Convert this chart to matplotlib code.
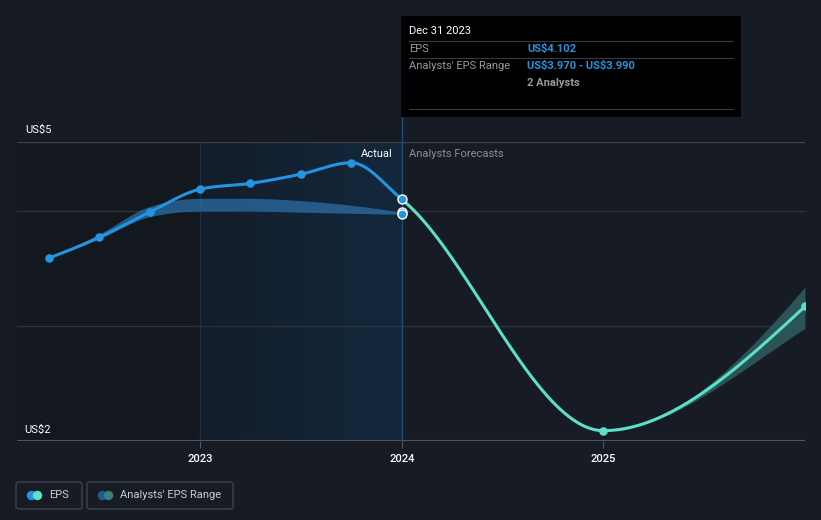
import numpy as np
import matplotlib
matplotlib.use("Agg")
import matplotlib.pyplot as plt
from matplotlib.colors import LinearSegmentedColormap
from matplotlib.patches import FancyBboxPatch, Rectangle
from matplotlib.lines import Line2D

plt.rcParams["font.family"] = ["Roboto", "DejaVu Sans"]

# data (decimal years)
actual_x = [2022.25, 2022.5, 2022.75, 2023.0, 2023.25, 2023.5, 2023.75, 2024.0]
actual_eps = [3.59, 3.77, 3.99, 4.19, 4.24, 4.32, 4.42, 4.102]

past_range_x = [2022.25, 2022.5, 2022.75, 2023.0, 2023.25, 2023.5, 2023.75, 2024.0]
past_range_low = [3.59, 3.76, 3.95, 4.00, 4.00, 3.99, 3.98, 3.97]
past_range_high = [3.59, 3.80, 4.04, 4.11, 4.11, 4.09, 4.05, 3.99]

fc_x = [2025.0, 2026.0]
fc_eps = [2.09, 3.17]
fc_range_low = [2.08, 2.98]
fc_range_high = [2.10, 3.34]

year_ticks = [2023, 2024, 2025]

BG = "#161b24"
BLUE = "#2394df"
TEAL = "#5de0c9"


def monotone(xs, ys, n=80):
    # cubic hermite, d3 curveMonotoneX style
    xs = np.asarray(xs, float)
    ys = np.asarray(ys, float)
    h = np.diff(xs)
    s = np.diff(ys) / h
    t = np.zeros(len(xs))
    if len(xs) < 3:
        t[:] = s[0]
    else:
        for i in range(1, len(xs) - 1):
            p = (s[i - 1] * h[i] + s[i] * h[i - 1]) / (h[i - 1] + h[i])
            t[i] = (np.sign(s[i - 1]) + np.sign(s[i])) * min(abs(s[i - 1]), abs(s[i]), 0.5 * abs(p))
        t[0] = (3 * s[0] - t[1]) / 2
        t[-1] = (3 * s[-1] - t[-2]) / 2
    out_x, out_y = [], []
    for i in range(len(xs) - 1):
        hh = xs[i + 1] - xs[i]
        u = np.linspace(0, 1, n)
        h00 = 2 * u**3 - 3 * u**2 + 1
        h10 = u**3 - 2 * u**2 + u
        h01 = -2 * u**3 + 3 * u**2
        h11 = u**3 - u**2
        yy = h00 * ys[i] + h10 * hh * t[i] + h01 * ys[i + 1] + h11 * hh * t[i + 1]
        out_x.extend(xs[i] + u * hh)
        out_y.extend(yy)
    return np.array(out_x), np.array(out_y)


W, H = 821, 520
fig = plt.figure(figsize=(W / 100, H / 100), dpi=100, facecolor=BG)
ax = fig.add_axes([17 / W, (H - 441) / H, (805 - 17) / W, (441 - 142) / H])
ax.set_facecolor(BG)
x0, x1 = 2022.092, 2026.0
ax.set_xlim(x0, x1)
ax.set_ylim(2.0, 4.6)

# background regions
ax.axvspan(x0, 2023.0, color="#13171e", zorder=0, lw=0)
grad = np.linspace(0, 1, 256).reshape(1, -1)
cmap = LinearSegmentedColormap.from_list("hl", ["#141d2a", "#13283d"])
ax.imshow(grad, cmap=cmap, extent=[2023.0, 2024.0, 2.0, 4.6], aspect="auto", zorder=0.5)
ax.axvline(2023.0, color="#1b3149", lw=1, zorder=0.6)

# grid
for v in [3, 4]:
    ax.axhline(v, color="#2c313a", lw=1, zorder=1)
ax.axhline(4.6, color="#3b4049", lw=1, zorder=1)
ax.axhline(2.0, color="#51555d", lw=1.5, zorder=1)

# tooltip line
ax.axvline(2024.0, ymin=0, ymax=(441 - 117) / (441 - 142), color="#1e4d78", lw=1, zorder=1.5, clip_on=False)

# past analysts range
bx, blo = monotone(past_range_x, past_range_low)
_, bhi = monotone(past_range_x, past_range_high)
ax.fill_between(bx, blo, bhi, color="#2a6ea6", alpha=0.75, lw=0, zorder=2)

# one smooth curve through actual + forecast points
all_x = actual_x + fc_x
all_y = actual_eps + fc_eps
cx, cy = monotone(all_x, all_y)
past = cx <= 2024.0
fut = cx >= 2024.0

# forecast range, widening around the forecast curve
m = cx >= 2025.0
cxm, cym = cx[m], cy[m]
wl = np.interp(cxm, fc_x, [fc_eps[0] - fc_range_low[0], fc_eps[1] - fc_range_low[1]])
wh = np.interp(cxm, fc_x, [fc_range_high[0] - fc_eps[0], fc_range_high[1] - fc_eps[1]])
frac = (cxm - 2025.0) ** 1.6
ax.fill_between(cxm, cym - wl * frac, cym + wh * frac, color="#2f5b5c", alpha=0.9, lw=0, zorder=2)

# lines
ax.plot(cx[fut], cy[fut], color=TEAL, lw=2.2, zorder=3, solid_capstyle="round")
ax.plot(cx[past], cy[past], color=BLUE, lw=2.2, zorder=4, solid_capstyle="round")

# markers
ax.scatter(actual_x[:-1], actual_eps[:-1], s=38, color=BLUE, zorder=5, lw=0)
ax.scatter([2024.0], [actual_eps[-1]], s=42, color=BLUE, edgecolor="white", lw=1, zorder=6)
ax.scatter([2024.0, 2024.0], [past_range_high[-1], past_range_low[-1]], s=42, color=BLUE,
           edgecolor="white", lw=1, zorder=6)
ax.scatter(fc_x, fc_eps, s=38, color=TEAL, zorder=5, lw=0)

for s in ax.spines.values():
    s.set_visible(False)
ax.set_xticks(year_ticks)
ax.set_xticklabels([str(y) for y in year_ticks], color="white", fontsize=8, fontweight="medium")
ax.tick_params(axis="x", length=5, color="#51555d", pad=4)
ax.set_yticks([])

# labels
fig.text(25 / W, 1 - 130 / H, "US\\$5", color="white", fontsize=8, va="center", ha="left")
fig.text(24 / W, 1 - 430 / H, "US\\$2", color="white", fontsize=8, va="center", ha="left")
fig.text(393 / W, 1 - 154 / H, "Actual", color="white", fontsize=8, va="center", ha="right")
fig.text(409 / W, 1 - 154 / H, "Analysts Forecasts", color="#8a8f98", fontsize=8, va="center", ha="left")

# tooltip
fig.patches.append(Rectangle((401 / W, 1 - 117 / H), 340 / W, 101 / H, transform=fig.transFigure,
                             facecolor="black", edgecolor="none", zorder=10))
for yy in [41, 58, 109]:
    fig.lines.append(Line2D([409 / W, 733 / W], [1 - yy / H] * 2, transform=fig.transFigure,
                            color="#3a3a3a", lw=0.8, zorder=11))
fig.text(409 / W, 1 - 31 / H, "Dec 31 2023", color="white", fontsize=8, va="center", zorder=12)
fig.text(409 / W, 1 - 49 / H, "EPS", color="#9a9a9a", fontsize=8, va="center", zorder=12)
fig.text(527 / W, 1 - 49 / H, "US\\$4.102", color=BLUE, fontsize=8, fontweight="bold", va="center", zorder=12)
fig.text(409 / W, 1 - 66 / H, "Analysts' EPS Range", color="#9a9a9a", fontsize=8, va="center", zorder=12)
fig.text(527 / W, 1 - 66 / H, "US\\$3.970 - US\\$3.990", color=BLUE, fontsize=8, fontweight="bold",
         va="center", zorder=12)
fig.text(527 / W, 1 - 83 / H, "2 Analysts", color="#9a9a9a", fontsize=8, fontweight="bold",
         va="center", zorder=12)


# legend
def legend_box(x, w, label, c1, c2):
    fig.patches.append(FancyBboxPatch((x / W, 1 - 509 / H), w / W, 27 / H, transform=fig.transFigure,
                                      boxstyle="round,pad=0,rounding_size=0.004", facecolor="none",
                                      edgecolor="#3e434b", lw=1))
    cyy = 1 - 494.5 / H
    fig.lines.append(Line2D([(x + 15) / W], [cyy], transform=fig.transFigure, marker="o",
                            markersize=6.8, color=c1, markeredgewidth=0, linestyle="none"))
    fig.lines.append(Line2D([(x + 21) / W], [cyy], transform=fig.transFigure, marker="o",
                            markersize=6.8, color=c2, markeredgewidth=0, linestyle="none"))
    fig.text((x + 33) / W, cyy, label, color="#c8ccd2", fontsize=8, va="center", ha="left")


legend_box(16, 66, "EPS", BLUE, TEAL)
legend_box(87, 146, "Analysts' EPS Range", "#1f5c8f", "#3a7f7c")

fig.savefig("out.png", dpi=100, facecolor=BG)
